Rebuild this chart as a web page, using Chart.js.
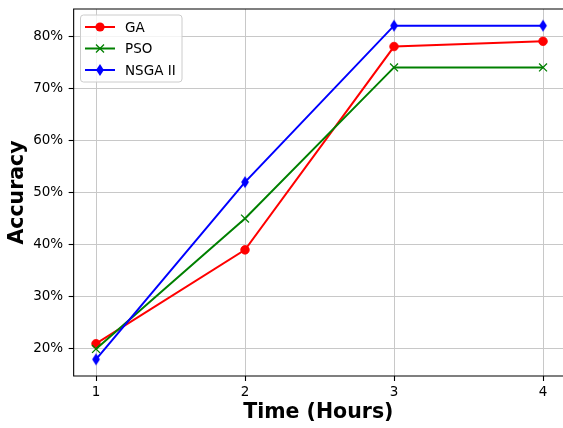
<!DOCTYPE html>
<html lang="en">
<head>
  <meta charset="UTF-8">
  <title>Accuracy over time</title>
  <script src="https://cdn.jsdelivr.net/npm/chart.js"></script>
  <style>
    html, body { margin: 0; padding: 0; overflow: hidden; background: #fff; }
    #accChart { display: block; }
  </style>
</head>
<body>
  <canvas id="accChart" width="563" height="428"></canvas>
  <script>
    // values (percent)
    const hours = [1, 2, 3, 4]
    const gaAcc = [21, 39, 78, 79]
    const psoAcc = [20, 45, 74, 74]
    const nsgaAcc = [18, 52, 82, 82]
    const seriesNames = ['GA', 'PSO', 'NSGA II']
    const xTicks = [1, 2, 3, 4]
    const yTicks = [20, 30, 40, 50, 60, 70, 80]

    const FONT = 'DejaVu Sans'

    // thin diamond marker like matplotlib 'd'
    function thinDiamond(color) {
      const c = document.createElement('canvas')
      c.width = 10
      c.height = 14
      const g = c.getContext('2d')
      g.fillStyle = color
      g.beginPath()
      g.moveTo(5, 1)
      g.lineTo(8.9, 7)
      g.lineTo(5, 13)
      g.lineTo(1.1, 7)
      g.closePath()
      g.fill()
      return c
    }
    const diamondImg = thinDiamond('#0000ff')

    const toPoints = (ys) => ys.map((y, i) => ({ x: hours[i], y: y }))

    // no extra room for half tick labels, the plot box is placed by hand
    const fixBox = (size) => (s) => {
      if (s.isHorizontal()) s.height = size
      else s.width = size
      s.paddingTop = s.paddingBottom = s.paddingLeft = s.paddingRight = 0
    }

    // the right spine of the original falls just outside the picture
    const frame = {
      id: 'frame',
      afterDatasetsDraw(chart) {
        const { ctx, chartArea: a } = chart
        ctx.save()
        ctx.strokeStyle = '#000'
        ctx.lineWidth = 1.1
        ctx.beginPath()
        ctx.moveTo(chart.width, a.top)
        ctx.lineTo(a.left, a.top)
        ctx.lineTo(a.left, a.bottom)
        ctx.lineTo(chart.width, a.bottom)
        ctx.stroke()
        ctx.restore()
      }
    }

    const mplLegend = {
      id: 'mplLegend',
      afterDatasetsDraw(chart) {
        const ctx = chart.ctx
        const bx = 80.5, by = 15, bw = 101.5, bh = 67
        ctx.save()
        ctx.fillStyle = 'rgba(255,255,255,0.8)'
        ctx.strokeStyle = '#cccccc'
        ctx.lineWidth = 1
        ctx.beginPath()
        ctx.roundRect(bx, by, bw, bh, 3)
        ctx.fill()
        ctx.stroke()
        const colors = ['#ff0000', '#008000', '#0000ff']
        const rows = [27, 48.5, 70]
        rows.forEach((y, i) => {
          ctx.strokeStyle = colors[i]
          ctx.lineWidth = 2
          ctx.beginPath()
          ctx.moveTo(85, y)
          ctx.lineTo(115, y)
          ctx.stroke()
          if (i === 0) {
            ctx.fillStyle = colors[i]
            ctx.beginPath()
            ctx.arc(100, y, 4.6, 0, Math.PI * 2)
            ctx.fill()
          } else if (i === 1) {
            ctx.lineWidth = 1.3
            ctx.beginPath()
            ctx.moveTo(96, y - 4); ctx.lineTo(104, y + 4)
            ctx.moveTo(96, y + 4); ctx.lineTo(104, y - 4)
            ctx.stroke()
          } else {
            ctx.drawImage(diamondImg, 100 - diamondImg.width / 2, y - diamondImg.height / 2)
          }
          ctx.fillStyle = '#000'
          ctx.font = '13.5px "' + FONT + '"'
          ctx.textBaseline = 'middle'
          ctx.textAlign = 'left'
          ctx.fillText(seriesNames[i], 125, y + 1)
        })
        ctx.restore()
      }
    }

    new Chart(document.getElementById('accChart'), {
      type: 'line',
      data: {
        datasets: [
          {
            label: seriesNames[0],
            data: toPoints(gaAcc),
            borderColor: '#ff0000',
            backgroundColor: '#ff0000',
            borderWidth: 2,
            pointStyle: 'circle',
            pointRadius: 4.3,
            pointBorderWidth: 0.8,
            order: 2
          },
          {
            label: seriesNames[1],
            data: toPoints(psoAcc),
            borderColor: '#008000',
            backgroundColor: '#008000',
            borderWidth: 2,
            pointStyle: 'crossRot',
            pointRadius: 5.6,
            pointBorderWidth: 1.3,
            order: 1
          },
          {
            label: seriesNames[2],
            data: toPoints(nsgaAcc),
            borderColor: '#0000ff',
            backgroundColor: '#0000ff',
            borderWidth: 2,
            pointStyle: diamondImg,
            order: 0
          }
        ]
      },
      options: {
        responsive: false,
        animation: false,
        events: [],
        layout: { autoPadding: false, padding: { left: 0, top: 9, right: 0, bottom: 0 } },
        elements: { line: { tension: 0 } },
        plugins: {
          legend: { display: false },
          tooltip: { enabled: false }
        },
        scales: {
          x: {
            type: 'linear',
            min: 0.85,
            max: 4.134,
            afterBuildTicks: (s) => { s.ticks = xTicks.map(v => ({ value: v })) },
            afterFit: fixBox(52),
            border: { display: false },
            grid: { color: '#c8c8c8', lineWidth: 1, tickColor: '#000', tickLength: 5, tickWidth: 1.1 },
            ticks: {
              padding: 3.2,
              color: '#000',
              font: { family: FONT, size: 13.5 },
              callback: (v) => String(v)
            },
            title: {
              display: true,
              text: 'Time (Hours)',
              color: '#000',
              padding: { top: 0, bottom: 2.9 },
              font: { family: FONT, size: 20.5, weight: 'bold' }
            }
          },
          y: {
            min: 14.8,
            max: 85.2,
            afterBuildTicks: (s) => { s.ticks = yTicks.map(v => ({ value: v })) },
            afterFit: fixBox(73.65),
            border: { display: false },
            grid: { color: '#c8c8c8', lineWidth: 1, tickColor: '#000', tickLength: 5, tickWidth: 1.1 },
            ticks: {
              padding: 5.5,
              color: '#000',
              font: { family: FONT, size: 13.5 },
              callback: (v) => v + '%'
            },
            title: {
              display: true,
              text: 'Accuracy',
              color: '#000',
              padding: { top: 5.7, bottom: 0 },
              font: { family: FONT, size: 20.5, weight: 'bold' }
            }
          }
        }
      },
      plugins: [frame, mplLegend]
    })
  </script>
</body>
</html>
